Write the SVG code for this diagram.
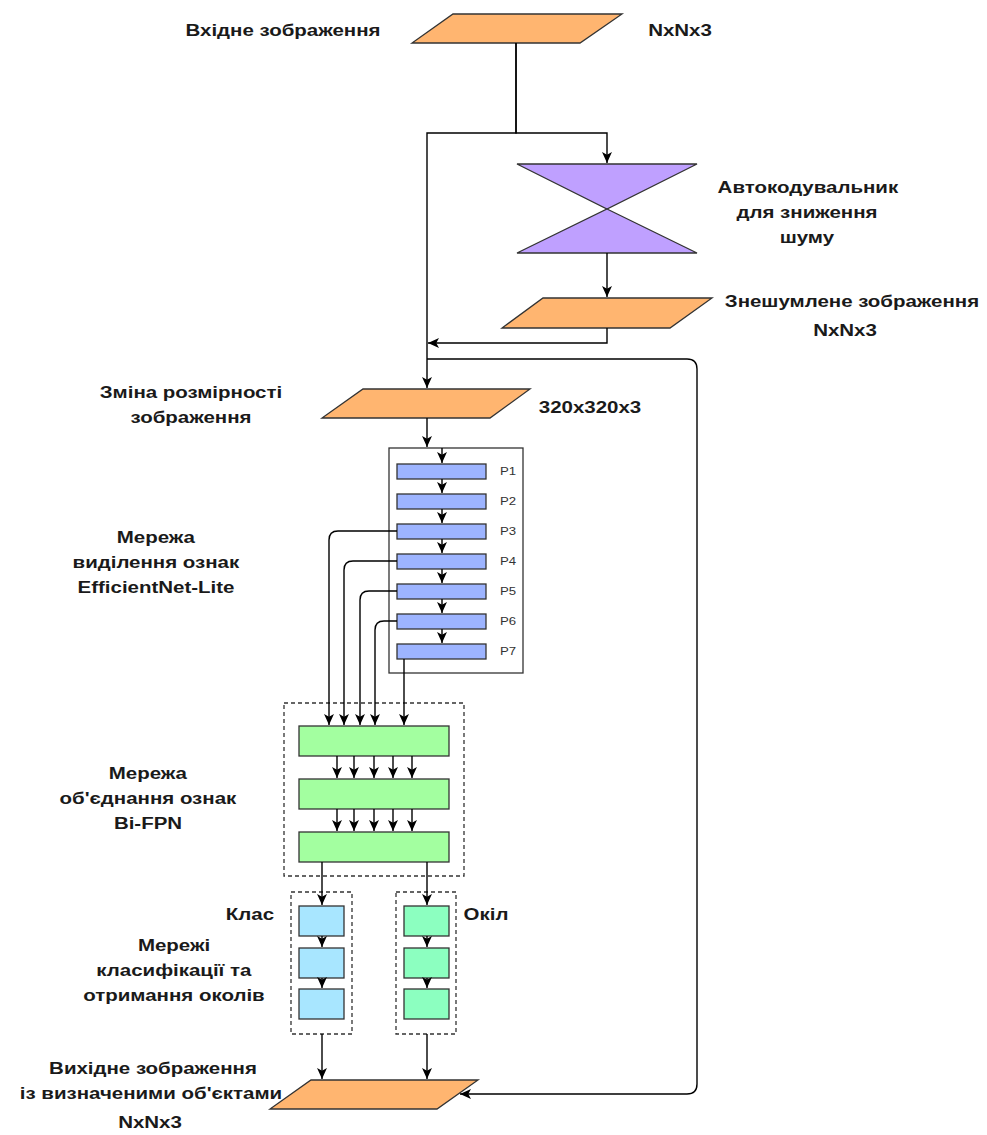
<svg xmlns="http://www.w3.org/2000/svg" width="987" height="1135" viewBox="0 0 987 1135">
  <style>
    .lbl { font-family: "Liberation Sans", Arial, sans-serif; font-size: 16px; font-weight: bold; fill: #1a1a1a; text-anchor: middle;
           transform-box: fill-box; transform-origin: center; transform: scaleX(1.28); }
    .plbl { font-family: "Liberation Sans", Arial, sans-serif; font-size: 11px; fill: #333; text-anchor: middle;
            transform-box: fill-box; transform-origin: center; transform: scaleX(1.2); }
    .io { fill: #FFB570; stroke: #333; stroke-width: 1.3; }
    .ae { fill: #BFA0FF; stroke: #333; stroke-width: 1.3; }
    .pbar { fill: #9DB4FF; stroke: #333; stroke-width: 1.3; }
    .fbar { fill: #A3FFA0; stroke: #333; stroke-width: 1.3; }
    .cls { fill: #A8E6FF; stroke: #333; stroke-width: 1.3; }
    .box { fill: #8CFFC0; stroke: #333; stroke-width: 1.3; }
    .frame { fill: #fff; stroke: #333; stroke-width: 1.3; }
    .dash { fill: none; stroke: #333; stroke-width: 1.3; stroke-dasharray: 4 3; }
    .edge { fill: none; stroke: #000; stroke-width: 1.4; marker-end: url(#arr); }
  </style>
  <defs>
    <marker id="arr" viewBox="0 0 10 10" refX="10" refY="5" markerWidth="11" markerHeight="11" markerUnits="userSpaceOnUse" orient="auto">
      <path d="M0,0.5 L10,5 L0,9.5 L2.5,5 z" fill="#000"/>
    </marker>
  </defs>

  <rect width="987" height="1135" fill="#fff"/>

  <!-- input image -->
  <g id="input">
    <polygon class="io" points="453,14 622,14 580,43 412,43"/>
    <text class="lbl" x="283" y="36">Вхідне зображення</text>
    <text class="lbl" x="680" y="36">NxNx3</text>
  </g>

  <!-- denoising autoencoder -->
  <g id="autoencoder">
    <polygon class="ae" points="517,164 697,164 607,209"/>
    <polygon class="ae" points="607,209 697,253 517,253"/>
    <text class="lbl" x="808" y="193">Автокодувальник</text>
    <text class="lbl" x="807" y="218">для зниження</text>
    <text class="lbl" x="807" y="243">шуму</text>
  </g>

  <!-- denoised image -->
  <g id="denoised">
    <polygon class="io" points="543,298 712,298 670,328 502,328"/>
    <text class="lbl" x="852" y="307">Знешумлене зображення</text>
    <text class="lbl" x="845" y="336">NxNx3</text>
  </g>

  <!-- resized image -->
  <g id="resize">
    <polygon class="io" points="363,389 530,389 490,418 322,418"/>
    <text class="lbl" x="191" y="398">Зміна розмірності</text>
    <text class="lbl" x="191" y="423">зображення</text>
    <text class="lbl" x="590" y="413">320x320x3</text>
  </g>

  <!-- EfficientNet-Lite backbone -->
  <g id="backbone">
    <rect class="frame" x="389" y="448" width="134" height="225"/>
    <rect class="pbar" x="397" y="464" width="89" height="15"/>
    <rect class="pbar" x="397" y="494" width="89" height="15"/>
    <rect class="pbar" x="397" y="524" width="89" height="15"/>
    <rect class="pbar" x="397" y="554" width="89" height="15"/>
    <rect class="pbar" x="397" y="584" width="89" height="15"/>
    <rect class="pbar" x="397" y="614" width="89" height="15"/>
    <rect class="pbar" x="397" y="644" width="89" height="15"/>
    <text class="plbl" x="508" y="475">P1</text>
    <text class="plbl" x="508" y="505">P2</text>
    <text class="plbl" x="508" y="535">P3</text>
    <text class="plbl" x="508" y="565">P4</text>
    <text class="plbl" x="508" y="595">P5</text>
    <text class="plbl" x="508" y="625">P6</text>
    <text class="plbl" x="508" y="655">P7</text>
    <text class="lbl" x="156" y="543">Мережа</text>
    <text class="lbl" x="156" y="568">виділення ознак</text>
    <text class="lbl" x="156" y="593">EfficientNet-Lite</text>
  </g>

  <!-- Bi-FPN feature fusion -->
  <g id="bifpn">
    <rect class="dash" x="284" y="703" width="180" height="173"/>
    <rect class="fbar" x="299" y="726" width="150" height="30"/>
    <rect class="fbar" x="299" y="779" width="150" height="30"/>
    <rect class="fbar" x="299" y="832" width="150" height="30"/>
    <text class="lbl" x="148" y="779">Мережа</text>
    <text class="lbl" x="148" y="804">об'єднання ознак</text>
    <text class="lbl" x="148" y="829">Bi-FPN</text>
  </g>

  <!-- class head -->
  <g id="class-head">
    <rect class="dash" x="291" y="892" width="61" height="142"/>
    <rect class="cls" x="299" y="906" width="45" height="30"/>
    <rect class="cls" x="299" y="948" width="45" height="30"/>
    <rect class="cls" x="299" y="989" width="45" height="30"/>
    <text class="lbl" x="250" y="920">Клас</text>
  </g>

  <!-- box head -->
  <g id="box-head">
    <rect class="dash" x="396" y="892" width="60" height="142"/>
    <rect class="box" x="404" y="906" width="45" height="30"/>
    <rect class="box" x="404" y="948" width="45" height="30"/>
    <rect class="box" x="404" y="989" width="45" height="30"/>
    <text class="lbl" x="486" y="920">Окіл</text>
  </g>

  <g id="heads-caption">
    <text class="lbl" x="174" y="951">Мережі</text>
    <text class="lbl" x="174" y="976">класифікації та</text>
    <text class="lbl" x="174" y="1001">отримання околів</text>
  </g>

  <!-- output image -->
  <g id="output">
    <polygon class="io" points="311,1080 478,1080 437,1109 270,1109"/>
    <text class="lbl" x="153" y="1074">Вихідне зображення</text>
    <text class="lbl" x="151" y="1099">із визначеними об'єктами</text>
    <text class="lbl" x="150" y="1128">NxNx3</text>
  </g>

  <!-- connectors -->
  <g id="connectors">
    <path class="edge" d="M516,43 V133 H607 V163"/>
    <path class="edge" d="M516,43 V133 H427 V388"/>
    <path class="edge" d="M607,253 V297"/>
    <path class="edge" d="M607,328 V343 H428"/>
    <path class="edge" d="M427,359 H687 Q697,359 697,369 V1084 Q697,1094 687,1094 H460"/>
    <path class="edge" d="M427,418 V447"/>

    <path class="edge" d="M442,448 V463"/>
    <path class="edge" d="M442,479 V493"/>
    <path class="edge" d="M442,509 V523"/>
    <path class="edge" d="M442,539 V553"/>
    <path class="edge" d="M442,569 V583"/>
    <path class="edge" d="M442,599 V613"/>
    <path class="edge" d="M442,629 V643"/>

    <path class="edge" d="M397,531 H338 Q329,531 329,540 V725"/>
    <path class="edge" d="M397,561 H353 Q344,561 344,570 V725"/>
    <path class="edge" d="M397,591 H369 Q360,591 360,600 V725"/>
    <path class="edge" d="M397,621 H384 Q375,621 375,630 V725"/>
    <path class="edge" d="M404,659 V725"/>

    <path class="edge" d="M337,756 V778"/>
    <path class="edge" d="M354,756 V778"/>
    <path class="edge" d="M374,756 V778"/>
    <path class="edge" d="M393,756 V778"/>
    <path class="edge" d="M412,756 V778"/>
    <path class="edge" d="M337,809 V831"/>
    <path class="edge" d="M354,809 V831"/>
    <path class="edge" d="M374,809 V831"/>
    <path class="edge" d="M393,809 V831"/>
    <path class="edge" d="M412,809 V831"/>

    <path class="edge" d="M322,862 V905"/>
    <path class="edge" d="M427,862 V905"/>
    <path class="edge" d="M322,936 V947"/>
    <path class="edge" d="M322,978 V988"/>
    <path class="edge" d="M427,936 V947"/>
    <path class="edge" d="M427,978 V988"/>

    <path class="edge" d="M322,1034 V1079"/>
    <path class="edge" d="M427,1034 V1079"/>
  </g>
</svg>
